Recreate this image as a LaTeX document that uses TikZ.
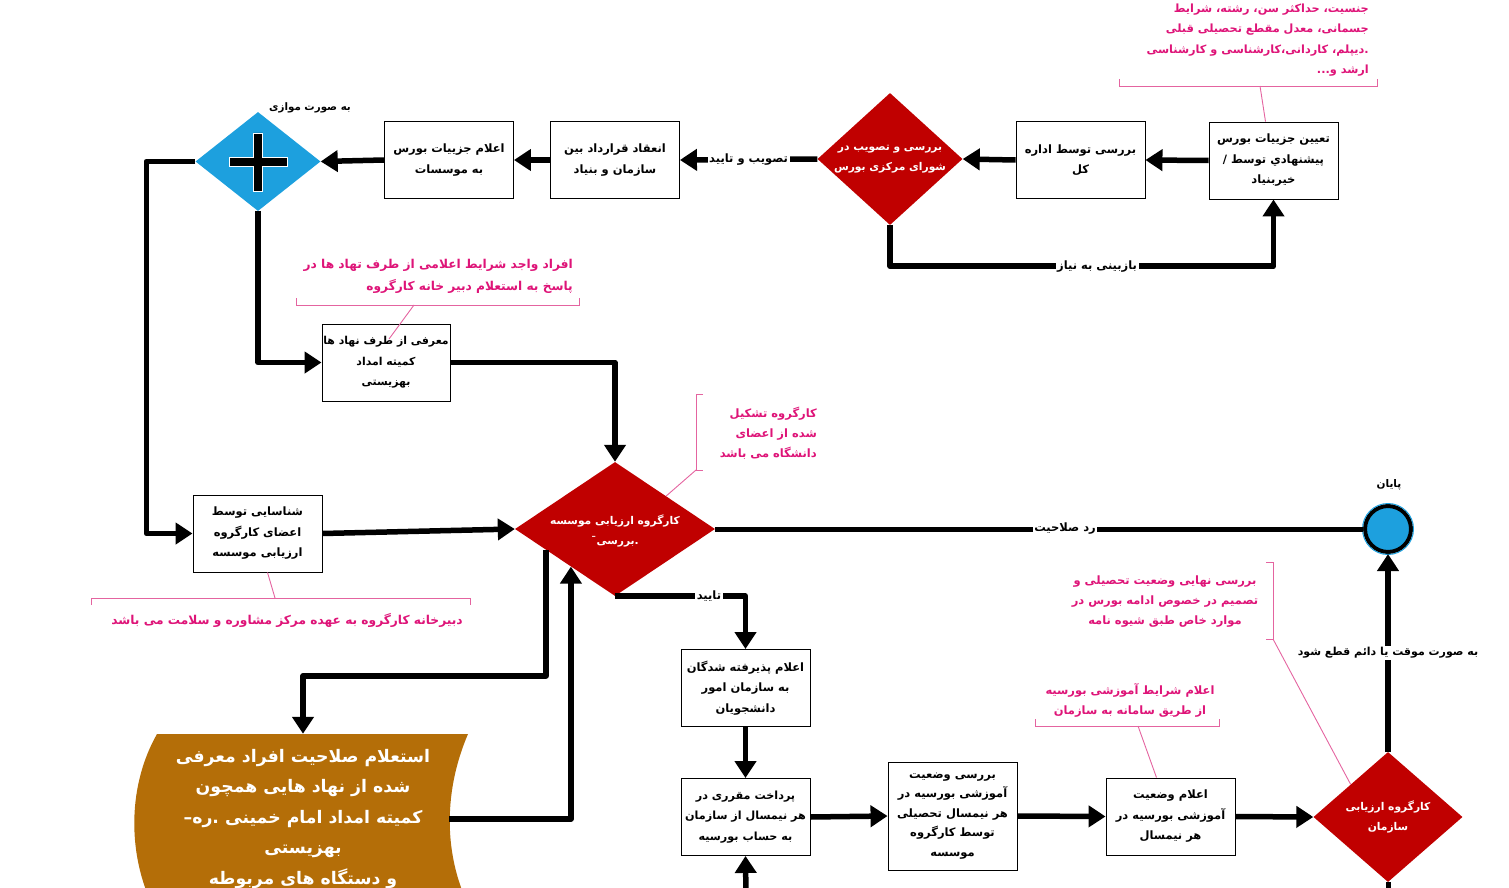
\documentclass[tikz,border=0pt]{standalone}
\usepackage{fontspec}
\usetikzlibrary{arrows.meta,shapes.geometric,calc}
\TeXXeTstate=1
\newfontfamily\arfont[Script=Arabic]{DejaVu Sans}
\newcommand{\RTx}[1]{\beginR #1\endR}
\definecolor{dred}{RGB}{192,0,0}
\definecolor{gblue}{RGB}{29,160,222}
\definecolor{brownz}{RGB}{180,110,8}
\definecolor{ptext}{RGB}{222,20,120}
\definecolor{pline}{RGB}{228,100,160}
\begin{document}
\begin{tikzpicture}[x=1pt,y=-1pt,
  box/.style={draw, line width=0.9pt, minimum width=129pt, minimum height=77pt, inner sep=1pt, align=center,
    font=\arfont\bfseries\fontsize{11.5}{20.5}\selectfont},
  dia/.style={diamond, fill=dred, inner sep=0pt},
  diat/.style={text=white, align=center, inner sep=0pt, font=\arfont\bfseries\fontsize{10.7}{20}\selectfont},
  conn/.style={line width=5.5pt, line join=round, -{Triangle[length=17pt,width=21pt]}},
  plain/.style={line width=5pt, line join=round},
  lbl/.style={fill=white, inner sep=1.5pt, text=black, font=\arfont\bfseries\fontsize{11.5}{13}\selectfont},
  note/.style={text=ptext, inner sep=0pt, font=\arfont\bfseries\fontsize{11.5}{20}\selectfont},
  brk/.style={draw=pline, line width=0.9pt},
]
\useasboundingbox (0,0) rectangle (1509,888);
\clip (0,0) rectangle (1509,888);

% ---------- top row ----------
\node[box] (b1) at (1273.5,160.5) {\RTx{تعیین جزییات بورس}\\\RTx{پیشنهادي توسط /}\\\RTx{خیربنیاد}};
\node[box] (b2) at (1080.5,160) {\RTx{بررسی توسط اداره}\\\RTx{کل}};
\node[dia, minimum width=145pt, minimum height=132pt] (d1) at (890,159) {};
\node[diat] (d1t) at (d1.center) {\RTx{بررسی و تصویب در}\\\RTx{شورای مرکزی بورس}};
\node[box] (b3) at (615,160) {\RTx{انعقاد قرارداد بین}\\\RTx{سازمان و بنیاد}};
\node[box] (b4) at (449,160) {\RTx{اعلام جزییات بورس}\\\RTx{به موسسات}};
\node[diamond, fill=gblue, inner sep=0pt, minimum width=125pt, minimum height=99pt] (p) at (258,161.5) {};
\fill[black, draw=white, line width=0.8pt] (253.5,133) -- (262.5,133) -- (262.5,157) -- (287,157) -- (287,166) -- (262.5,166)
  -- (262.5,191) -- (253.5,191) -- (253.5,166) -- (229,166) -- (229,157) -- (253.5,157) -- cycle;
\node[lbl, fill=none, font=\arfont\bfseries\fontsize{10.3}{12}\selectfont] (plbl) at (310,108) {\RTx{به صورت موازی}};

\draw[conn] (b1.west) -- (b2.east);
\draw[conn] (b2.west) -- (d1.east);
\draw[conn] (d1.west) -- node[lbl]{\RTx{تصویب و تایید}} (b3.east);
\draw[conn] (b3.west) -- (b4.east);
\draw[conn] (b4.west) -- (p.east);
\draw[conn] (d1.south) -- ++(0,41) -| node[lbl, pos=0.27]{\RTx{بازبینی به نیاز}} (b1.south);

% top callout
\node[note, align=right, anchor=east, font=\arfont\bfseries\fontsize{11.3}{20.3}\selectfont] (n1) at (1369,40)
  {\RTx{جنسیت، حداکثر سن، رشته، شرایط}\\\RTx{جسمانی، معدل مقطع تحصیلی قبلی}\\\RTx{.دیپلم، کاردانی،کارشناسی و کارشناسی}\\\RTx{ارشد و...}};
\draw[brk] (1119,79) -- (1119,86) -- (1377,86) -- (1377,79);
\coordinate (n1c) at (1260,86);
\draw[brk] (n1c) -- ([xshift=-8pt]b1.north);

% ---------- left column ----------
\node[box, minimum width=128pt, font=\arfont\bfseries\fontsize{10.9}{20.5}\selectfont] (b6) at (386,362.5) {\RTx{معرفی از طرف نهاد ها}\\\RTx{کمیته امداد}\\\RTx{بهزیستی}};
\node[box] (b5) at (257.5,533.5) {\RTx{شناسایی توسط}\\\RTx{اعضای کارگروه}\\\RTx{ارزیابی موسسه}};
\draw[conn] (p.west) -- ++(-49,0) |- (b5.west);
\draw[conn] (p.south) |- (b6.west);

\node[note, align=right, anchor=east, font=\arfont\bfseries\fontsize{12.2}{22}\selectfont] (n2) at (573,276)
  {\RTx{افراد واجد شرایط اعلامی از طرف تهاد ها در}\\\RTx{پاسخ به استعلام دبیر خانه کارگروه}};
\draw[brk] (296,298) -- (296,305) -- (579,305) -- (579,298);
\coordinate (n2c) at (414,305);
\coordinate (n2e) at (389,339);
\draw[brk] (n2c) -- (n2e);

\node[note, font=\arfont\bfseries\fontsize{12.2}{14}\selectfont] (n3) at (287,620) {\RTx{دبیرخانه کارگروه به عهده مرکز مشاوره و سلامت می باشد}};
\draw[brk] (91,605) -- (91,598) -- (470,598) -- (470,605);
\coordinate (n3c) at (275,598);
\draw[brk] ([xshift=10pt]b5.south) -- (n3c);

% ---------- middle ----------
\node[dia, minimum width=200pt, minimum height=134pt] (d2) at (615,529) {};
\node[diat] (d2t) at ([yshift=-2pt]d2.center) {\RTx{کارگروه ارزیابی موسسه}\\\RTx{.بررسی¯}};
\draw[conn] (b6.east) -| (d2.north);
\draw[conn] (b5.east) -- (d2.west);

\node[note, align=right, anchor=east] (n4) at (817,433)
  {\RTx{کارگروه تشکیل}\\\RTx{شده از اعضای}\\\RTx{دانشگاه می باشد}};
\draw[brk] (703,394) -- (696,394) -- (696,470) -- (703,470);
\coordinate (n4c) at (696,470);
\draw[brk] (n4c) -- ($(d2.north)!0.51!(d2.east)$);

% end event
\node[circle, fill=gblue, draw=black, line width=4pt, minimum size=46pt, inner sep=0pt] (e) at (1388,529) {};
\draw[gblue, line width=1pt] (e.center) circle (25.5pt);
\node[lbl, fill=none, font=\arfont\bfseries\fontsize{10.5}{12}\selectfont] (elbl) at (1389,485) {\RTx{پایان}};
\draw[plain] (d2.east) -- node[lbl, pos=0.54]{\RTx{رد صلاحیت}} (e.west);

% brown inquiry shape
\fill[brownz] (157,734) -- (468,734) .. controls (444,790) and (444,850) .. (466,900) -- (150,900)
  .. controls (128,850) and (128,785) .. (157,734) -- cycle;
\node[text=white, align=center, inner sep=0pt, minimum width=292pt, minimum height=170pt,
  font=\arfont\bfseries\fontsize{17.3}{30.5}\selectfont] (z) at (303,819)
  {\RTx{استعلام صلاحیت افراد معرفی}\\\RTx{شده از نهاد هایی همچون}\\\RTx{کمیته امداد امام خمینی .ره–}\\\RTx{بهزیستی}\\\RTx{و دستگاه های مربوطه}};

\draw[conn] ($(d2.west)!0.31!(d2.south)$) -- ++(0,126) -| (z.north);
\draw[conn] (z.east) -| ($(d2.west)!0.56!(d2.south)$);

% ---------- bottom row ----------
\node[box] (b7) at (745.5,688) {\RTx{اعلام پذیرفته شدگان}\\\RTx{به سازمان امور}\\\RTx{دانشجویان}};
\node[box, font=\arfont\bfseries\fontsize{11.2}{20.5}\selectfont] (b8) at (745.5,817) {\RTx{پرداخت  مقرری در}\\\RTx{هر نیمسال از سازمان}\\\RTx{به حساب بورسیه}};
\node[box, minimum height=108pt, font=\arfont\bfseries\fontsize{11.5}{19.5}\selectfont] (b9) at (952.5,816)
  {\RTx{بررسی وضعیت}\\\RTx{آموزشی بورسیه در}\\\RTx{هر نیمسال تحصیلی}\\\RTx{توسط کارگروه}\\\RTx{موسسه}};
\node[box] (b10) at (1170.5,816.5) {\RTx{اعلام وضعیت}\\\RTx{آموزشی بورسیه در}\\\RTx{هر نیمسال}};
\node[dia, minimum width=149pt, minimum height=130pt] (d3) at (1388,817) {};
\node[diat] (d3t) at (d3.center) {\RTx{کارگروه ارزیابی}\\\RTx{سازمان}};

\draw[conn] (d2.south) -| node[lbl, pos=0.36]{\RTx{تایید}} (b7.north);
\draw[conn] (b7.south) -- (b8.north);
\coordinate (b8in) at (746,900);
\draw[conn] (b8in) -- (b8.south);
\draw[conn] (b8.east) -- (b9.west);
\draw[conn] (b9.east) -- (b10.west);
\draw[conn] (b10.east) -- (d3.west);
\draw[conn] (d3.north) -- node[lbl, font=\arfont\bfseries\fontsize{11}{13}\selectfont]{\RTx{به صورت موقت یا دائم قطع شود}} (e.south);
\coordinate (d3out) at (1388,900);
\draw[plain] (d3.south) -- (d3out);

\node[note, align=center] (n5) at (1130,700)
  {\RTx{اعلام شرایط آموزشی بورسیه}\\\RTx{از طریق سامانه به سازمان}};
\draw[brk] (1035,719) -- (1035,726) -- (1219,726) -- (1219,719);
\coordinate (n5c) at (1138,726);
\draw[brk] (n5c) -- ([xshift=-14pt]b10.north);

\node[note, align=center] (n6) at (1165,602)
  {\RTx{بررسی  نهایی وضعیت تحصیلی و}\\\RTx{تصمیم در خصوص ادامه بورس در}\\\RTx{موارد خاص طبق شیوه نامه}};
\draw[brk] (1266,562) -- (1273,562) -- (1273,639) -- (1266,639);
\coordinate (n6c) at (1273,639);
\draw[brk] (n6c) -- ($(d3.west)!0.5!(d3.north)$);
\end{tikzpicture}
\end{document}
